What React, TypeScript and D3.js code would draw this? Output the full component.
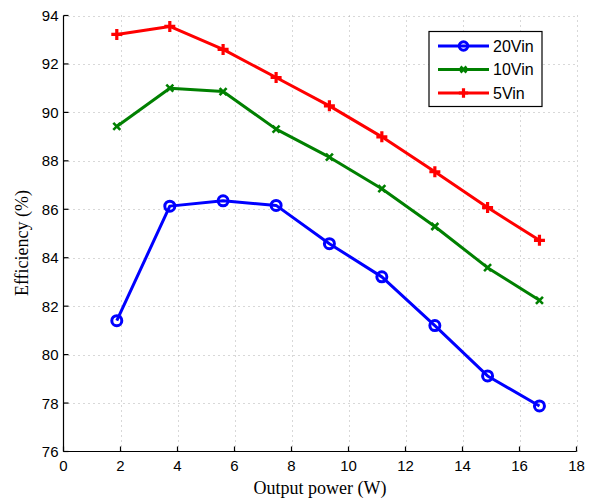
import React from "react";
import * as d3 from "d3";

const outputPower = [1.87, 3.73, 5.6, 7.46, 9.33, 11.17, 13.03, 14.88, 16.7];
const eff20Vin = [81.4, 86.13, 86.35, 86.16, 84.58, 83.21, 81.2, 79.12, 77.88];
const eff10Vin = [89.42, 91.0, 90.86, 89.31, 88.15, 86.85, 85.29, 83.59, 82.24];
const eff5Vin = [93.22, 93.55, 92.6, 91.44, 90.27, 88.99, 87.55, 86.07, 84.72];
const seriesNames = ["20Vin", "10Vin", "5Vin"];
const xTicks = [0, 2, 4, 6, 8, 10, 12, 14, 16, 18];
const yTicks = [76, 78, 80, 82, 84, 86, 88, 90, 92, 94];

const W = 597;
const H = 499;
const left = 63.5;
const right = 576.5;
const top = 15.5;
const bottom = 451.5;

type Marker = "circle" | "x" | "plus";

function MarkerShape({ type, cx, cy, color, scale = 1 }: { type: Marker; cx: number; cy: number; color: string; scale?: number }) {
  if (type === "circle") {
    return <circle cx={cx} cy={cy} r={5 * scale} fill="none" stroke={color} strokeWidth={3} />;
  }
  if (type === "plus") {
    const s = 5.5 * scale;
    return (
      <path d={`M${cx - s},${cy}H${cx + s}M${cx},${cy - s}V${cy + s}`} stroke={color} strokeWidth={3.2} fill="none" />
    );
  }
  const s = 3.5 * scale;
  return (
    <path d={`M${cx - s},${cy - s}L${cx + s},${cy + s}M${cx - s},${cy + s}L${cx + s},${cy - s}`} stroke={color} strokeWidth={2.6} fill="none" />
  );
}

export default function App() {
  const x = d3.scaleLinear().domain([0, 18]).range([left, right]);
  const y = d3.scaleLinear().domain([76, 94]).range([bottom, top]);

  const series = [
    { name: seriesNames[0], values: eff20Vin, color: "#0000ff", marker: "circle" as Marker },
    { name: seriesNames[1], values: eff10Vin, color: "#008000", marker: "x" as Marker },
    { name: seriesNames[2], values: eff5Vin, color: "#ff0000", marker: "plus" as Marker },
  ];

  const line = d3
    .line<number>()
    .x((_, i) => x(outputPower[i]))
    .y((d) => y(d));

  const tickFont = "'Liberation Sans', Arial, Helvetica, sans-serif";
  const labelFont = "'Liberation Serif', 'Times New Roman', serif";

  const legX = 429;
  const legY = 31.5;

  return (
    <svg width={W} height={H} style={{ position: "absolute", left: 0, top: 0, background: "#fff" }}>
      <rect x={0} y={0} width={W} height={H} fill="#fff" />
      {/* grid */}
      <g stroke="#b0b0b0" strokeWidth={1} strokeDasharray="1,4">
        {xTicks.slice(1).map((t) => (
          <line key={"gx" + t} x1={Math.round(x(t)) + 0.5} x2={Math.round(x(t)) + 0.5} y1={bottom} y2={top} />
        ))}
        {yTicks.slice(1).map((t) => (
          <line key={"gy" + t} x1={left} x2={right} y1={Math.round(y(t)) + 0.5} y2={Math.round(y(t)) + 0.5} />
        ))}
      </g>
      {/* axes */}
      <g stroke="#000" strokeWidth={1.2}>
        <line x1={left} x2={right} y1={bottom} y2={bottom} />
        <line x1={left} x2={left} y1={bottom} y2={top} />
        {xTicks.map((t) => (
          <line key={"tx" + t} x1={x(t)} x2={x(t)} y1={bottom} y2={bottom - 5} />
        ))}
        {yTicks.map((t) => (
          <line key={"ty" + t} x1={left} x2={left + 5} y1={y(t)} y2={y(t)} />
        ))}
      </g>
      <g fontFamily={tickFont} fontSize={15} fill="#000">
        {xTicks.map((t) => (
          <text key={"lx" + t} x={x(t)} y={471} textAnchor="middle">
            {t}
          </text>
        ))}
        {yTicks.map((t) => (
          <text key={"ly" + t} x={left - 5} y={y(t) + 5.5} textAnchor="end">
            {t}
          </text>
        ))}
      </g>
      <text x={320} y={494} textAnchor="middle" fontFamily={labelFont} fontSize={18}>
        Output power (W)
      </text>
      <text transform={`translate(28,243) rotate(-90)`} textAnchor="middle" fontFamily={labelFont} fontSize={18}>
        Efficiency (%)
      </text>
      {/* series */}
      {series.map((s) => (
        <g key={s.name}>
          <path d={line(s.values) || ""} fill="none" stroke={s.color} strokeWidth={3} strokeLinejoin="round" />
          {s.values.map((v, i) => (
            <MarkerShape key={i} type={s.marker} cx={x(outputPower[i])} cy={y(v)} color={s.color} />
          ))}
        </g>
      ))}
      {/* legend */}
      <rect x={legX} y={legY} width={113} height={75} fill="#fff" stroke="#000" strokeWidth={1.2} />
      {series.map((s, i) => {
        const cy = legY + 14.5 + i * 23.5;
        return (
          <g key={"leg" + s.name}>
            <line x1={438} x2={489} y1={cy} y2={cy} stroke={s.color} strokeWidth={3} />
            <MarkerShape type={s.marker} cx={463.5} cy={cy} color={s.color} scale={0.85} />
            <text x={493} y={cy + 5.5} fontFamily={tickFont} fontSize={16} fill="#000">
              {s.name}
            </text>
          </g>
        );
      })}
    </svg>
  );
}
